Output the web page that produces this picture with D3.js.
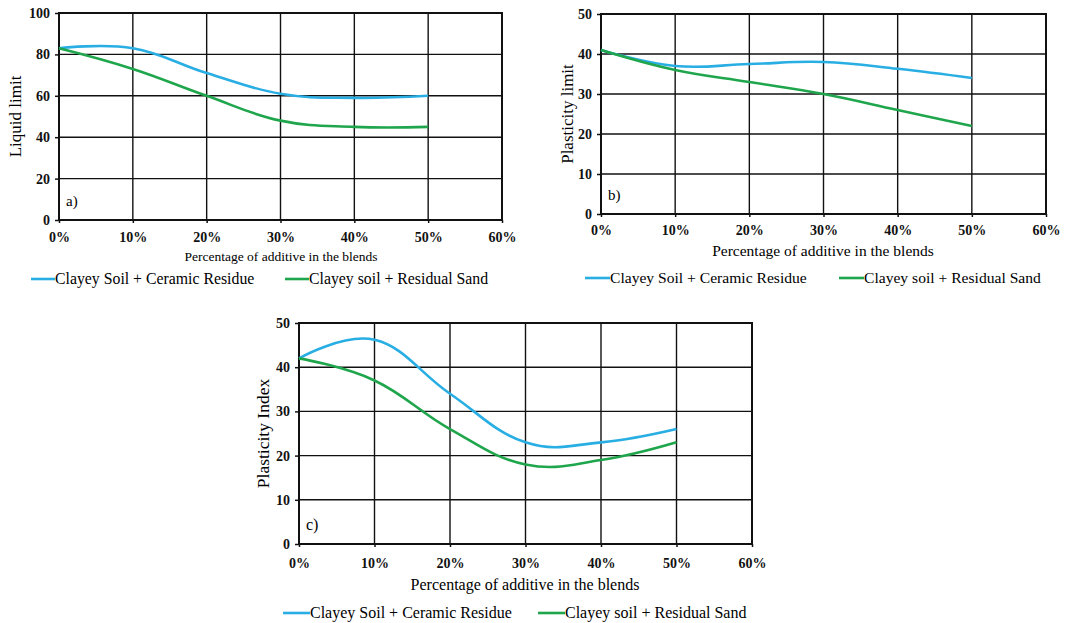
<!DOCTYPE html>
<html>
<head>
<meta charset="utf-8">
<script src="https://cdn.jsdelivr.net/npm/d3@7/dist/d3.min.js"></script>
<style>
  body { margin: 0; background: #fff; }
  svg { display: block; }
  text { font-family: 'Liberation Serif', 'Times New Roman', serif; }
</style>
</head>
<body>
<div id="graph"></div>
<script>
// data
const additive = [0, 10, 20, 30, 40, 50];
const xTicks = [0, 10, 20, 30, 40, 50, 60];
const seriesNames = ['Clayey Soil + Ceramic Residue', 'Clayey soil + Residual Sand'];
const seriesColors = ['#29aee3', '#1fa64c'];

const liquidCeramic = [83, 83, 71, 61, 59, 60];
const liquidSand = [83, 73, 60, 48, 45, 45];
const plasticCeramic = [41, 37, 37.5, 38, 36.3, 34];
const plasticSand = [41, 36, 33, 30, 26, 22];
const indexCeramic = [42, 46.2, 34, 23, 23, 26];
const indexSand = [42, 37, 26, 18, 19, 23];

const liquidTicks = [0, 20, 40, 60, 80, 100];
const plasticTicks = [0, 10, 20, 30, 40, 50];

const w = 1077;
const h = 623;

const svg = d3.select('#graph')
  .append('svg')
  .attr('width', w)
  .attr('height', h);

const serif = "'Liberation Serif', 'Times New Roman', serif";

function drawPanel(p) {
  const g = svg.append('g');
  const xScale = d3.scaleLinear().domain([0, 60]).range([p.left, p.right]);
  const yScale = d3.scaleLinear().domain([0, p.yMax]).range([p.bottom, p.top]);

  // grid
  g.selectAll('.vgrid')
    .data(xTicks)
    .enter()
    .append('line')
    .attr('x1', d => xScale(d)).attr('x2', d => xScale(d))
    .attr('y1', p.top).attr('y2', p.bottom)
    .style('stroke', '#111').style('stroke-width', 1.4);
  g.selectAll('.hgrid')
    .data(p.yTicks)
    .enter()
    .append('line')
    .attr('x1', p.left).attr('x2', p.right)
    .attr('y1', d => yScale(d)).attr('y2', d => yScale(d))
    .style('stroke', '#111').style('stroke-width', 1.4);

  // frame
  g.append('rect')
    .attr('x', p.left).attr('y', p.top)
    .attr('width', p.right - p.left).attr('height', p.bottom - p.top)
    .style('fill', 'none').style('stroke', '#111').style('stroke-width', 2);

  // axes
  const yAxis = d3.axisLeft(yScale).tickValues(p.yTicks).tickSize(4).tickPadding(5);
  const xAxis = d3.axisBottom(xScale).tickValues(xTicks).tickSize(3).tickPadding(p.xPad)
    .tickFormat(d => d + '%');

  const ya = g.append('g').attr('transform', `translate(${p.left},0)`).call(yAxis);
  const xa = g.append('g').attr('transform', `translate(0,${p.bottom})`).call(xAxis);
  [ya, xa].forEach(a => {
    a.attr('font-family', serif);
    a.select('.domain').remove();
    a.selectAll('line').style('stroke', '#111').style('stroke-width', 1.5);
    a.selectAll('text')
      .style('font-family', serif)
      .style('font-weight', 'bold')
      .style('font-size', p.tickSize + 'px')
      .style('fill', '#111');
  });

  // lines, smoothed like the spreadsheet curves
  const line = d3.line()
    .x((d, i) => xScale(additive[i]))
    .y(d => yScale(d))
    .curve(d3.curveCardinal.tension(-0.2));

  p.series.forEach((s, i) => {
    g.append('path')
      .datum(s)
      .attr('d', line)
      .style('fill', 'none')
      .style('stroke', seriesColors[i])
      .style('stroke-width', 2.6);
  });

  // panel letter
  g.append('text')
    .attr('x', p.left + 7)
    .attr('y', p.bottom - 14)
    .style('font-size', p.letterSize + 'px')
    .text(p.letter);

  // y title
  g.append('text')
    .attr('transform', `translate(${p.yTitleX},${(p.top + p.bottom) / 2}) rotate(-90)`)
    .attr('text-anchor', 'middle')
    .style('font-size', p.yTitleSize + 'px')
    .text(p.yTitle);

  // x title
  g.append('text')
    .attr('x', p.xTitleX)
    .attr('y', p.xTitleY)
    .attr('text-anchor', 'middle')
    .style('font-size', p.xTitleSize + 'px')
    .text('Percentage of additive in the blends');

  // legend
  p.legend.forEach((lx, i) => {
    g.append('line')
      .attr('x1', lx).attr('x2', lx + p.legendLine)
      .attr('y1', p.legendY - 5).attr('y2', p.legendY - 5)
      .style('stroke', seriesColors[i]).style('stroke-width', 2.6);
    g.append('text')
      .attr('x', lx + p.legendLine)
      .attr('y', p.legendY)
      .style('font-size', p.legendSize + 'px')
      .text(seriesNames[i]);
  });
}

drawPanel({
  left: 59, right: 502, top: 13, bottom: 220, yMax: 100, yTicks: liquidTicks,
  series: [liquidCeramic, liquidSand], letter: 'a)', letterSize: 15,
  yTitle: 'Liquid limit', yTitleX: 21, yTitleSize: 17,
  xTitleX: 281, xTitleY: 261, xTitleSize: 13.5, xPad: 9, tickSize: 14,
  legend: [31, 285], legendY: 284, legendLine: 24, legendSize: 15.8
});

drawPanel({
  left: 601, right: 1046, top: 14, bottom: 214, yMax: 50, yTicks: plasticTicks,
  series: [plasticCeramic, plasticSand], letter: 'b)', letterSize: 15,
  yTitle: 'Plasticity limit', yTitleX: 573, yTitleSize: 17,
  xTitleX: 823, xTitleY: 256, xTitleSize: 15.5, xPad: 8, tickSize: 14,
  legend: [585, 839], legendY: 283, legendLine: 25, legendSize: 15.6
});

drawPanel({
  left: 299, right: 752, top: 323, bottom: 544, yMax: 50, yTicks: plasticTicks,
  series: [indexCeramic, indexSand], letter: 'c)', letterSize: 16,
  yTitle: 'Plasticity Index', yTitleX: 269, yTitleSize: 17.5,
  xTitleX: 525, xTitleY: 590, xTitleSize: 16, xPad: 11, tickSize: 14,
  legend: [283, 538], legendY: 618, legendLine: 27, legendSize: 16
});
</script>
</body>
</html>
